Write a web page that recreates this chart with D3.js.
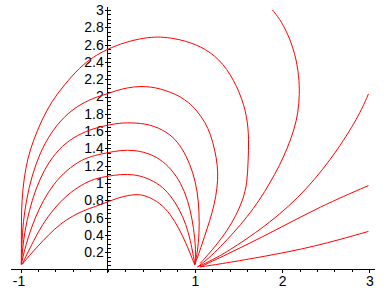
<!DOCTYPE html>
<html><head><meta charset="utf-8">
<script src="https://cdn.jsdelivr.net/npm/d3@7"></script>
<style>
html,body{margin:0;padding:0;background:#fff;}
svg{display:block;}
text{font-family:"Liberation Sans",Arial,sans-serif;font-size:14px;fill:#000;}
</style></head>
<body>
<svg id="c" width="388" height="288"></svg>
<script>
// Field lines (x, y)
const arc1 = [[-0.98,0.06],[-0.9,0.16],[-0.8,0.27],[-0.68,0.4],[-0.54,0.53],[-0.4,0.62],[-0.28,0.68],[-0.14,0.73],[0,0.78],[0.12,0.83],[0.25,0.86],[0.35,0.87],[0.45,0.85],[0.6,0.77],[0.72,0.64],[0.82,0.47],[0.9,0.3],[0.96,0.15],[1.0,0.05]];
const arc2 = [[-0.98,0.06],[-0.93,0.17],[-0.85,0.33],[-0.75,0.52],[-0.62,0.7],[-0.47,0.86],[-0.3,0.98],[-0.15,1.05],[0,1.08],[0.15,1.1],[0.3,1.1],[0.45,1.06],[0.6,0.98],[0.72,0.86],[0.82,0.7],[0.9,0.52],[0.95,0.33],[0.98,0.17],[1.0,0.06]];
const arc3 = [[-0.99,0.06],[-0.96,0.2],[-0.91,0.38],[-0.84,0.58],[-0.74,0.8],[-0.62,0.99],[-0.47,1.15],[-0.3,1.27],[-0.15,1.32],[0,1.35],[0.15,1.38],[0.3,1.38],[0.45,1.35],[0.6,1.28],[0.73,1.16],[0.84,1.0],[0.92,0.8],[0.97,0.58],[1.0,0.36],[1.01,0.18],[1.0,0.06]];
const arc4 = [[-0.99,0.06],[-0.975,0.25],[-0.95,0.45],[-0.9,0.68],[-0.83,0.92],[-0.73,1.15],[-0.6,1.35],[-0.44,1.5],[-0.25,1.6],[-0.09,1.65],[0.1,1.69],[0.26,1.70],[0.49,1.68],[0.68,1.59],[0.8,1.48],[0.9,1.32],[0.98,1.12],[1.03,0.9],[1.05,0.66],[1.05,0.42],[1.03,0.2],[1.0,0.06]];
const arc5 = [[-0.99,0.06],[-0.985,0.3],[-0.97,0.55],[-0.93,0.82],[-0.87,1.08],[-0.78,1.34],[-0.66,1.57],[-0.5,1.77],[-0.32,1.91],[-0.12,2.0],[0,2.03],[0.1,2.07],[0.22,2.1],[0.37,2.12],[0.5,2.11],[0.6,2.09],[0.72,2.05],[0.83,2.0],[0.93,1.93],[1.02,1.84],[1.12,1.7],[1.18,1.56],[1.23,1.38],[1.26,1.2],[1.265,1.03],[1.24,0.84],[1.2,0.66],[1.14,0.47],[1.08,0.29],[1.03,0.14],[1.0,0.06]];
const arc6 = [[-0.99,0.06],[-0.99,0.3],[-0.99,0.55],[-0.985,0.8],[-0.96,1.05],[-0.92,1.28],[-0.85,1.5],[-0.76,1.72],[-0.64,1.95],[-0.5,2.13],[-0.32,2.34],[-0.16,2.46],[-0.02,2.54],[0.2,2.63],[0.43,2.68],[0.57,2.69],[0.72,2.68],[0.95,2.63],[1.18,2.52],[1.37,2.33],[1.52,2.04],[1.6,1.77],[1.62,1.5],[1.61,1.25],[1.6,1.0],[1.55,0.8],[1.47,0.62],[1.37,0.45],[1.26,0.3],[1.15,0.17],[1.06,0.07]];
const out1 = [[1.03,0.03],[1.16,0.13],[1.29,0.26],[1.45,0.43],[1.6,0.61],[1.74,0.8],[1.86,1.0],[1.97,1.2],[2.06,1.40],[2.14,1.62],[2.185,1.82],[2.2,2.02],[2.195,2.23],[2.15,2.5],[2.055,2.75],[1.97,2.9],[1.89,3.0]];
const out2 = [[1.03,0.03],[1.2,0.11],[1.405,0.225],[1.864,0.538],[2.284,0.919],[2.647,1.39],[2.896,1.806],[2.99,2.03]];
const out3 = [[1.06,0.03],[1.40,0.19],[1.90,0.44],[2.44,0.73],[2.99,0.97]];
const out4 = [[1.06,0.03],[1.33,0.07],[1.79,0.15],[2.36,0.26],[2.99,0.44]];
const curves = [arc1, arc2, arc3, arc4, arc5, arc6, out1, out2, out3, out4];

const xTicks = d3.range(-5, 16).map(i => +(i * 0.2).toFixed(1));
const xLabels = [-1, 1, 2, 3];
const yTicks = d3.range(1, 61).map(i => +(i * 0.05).toFixed(2));
const yLabels = d3.range(1, 16).map(i => +(i * 0.2).toFixed(1));

const svg = d3.select("#c");
const x = d3.scaleLinear().domain([-1, 3]).range([20.5, 369.3]);
const y = d3.scaleLinear().domain([0, 3]).range([269.5, 10]);

// x axis
const gx = svg.append("g").attr("transform", `translate(0,${y(0)})`);
gx.append("line").attr("x1", x(-1.11)).attr("x2", x(3.07)).attr("stroke", "#000").attr("shape-rendering", "crispEdges");
gx.call(g => g.append("g").call(d3.axisBottom(x).tickValues(xTicks).tickSize(2).tickFormat(""))
  .call(a => a.select(".domain").remove()));
gx.call(g => g.append("g").call(d3.axisBottom(x).tickValues(xLabels).tickSize(3).tickPadding(4).tickFormat(d => String(d)))
  .call(a => a.select(".domain").remove())
  .call(a => a.selectAll(".tick text").attr("dx", d => d < 0 ? -2 : 0)));

// y axis
const gy = svg.append("g").attr("transform", `translate(${x(0)},0)`);
gy.append("line").attr("y1", y(-0.04)).attr("y2", y(3.04)).attr("stroke", "#000").attr("shape-rendering", "crispEdges");
gy.call(g => g.append("g").call(d3.axisRight(y).tickValues(yTicks).tickSize(3).tickFormat(""))
  .call(a => a.select(".domain").remove()));
gy.call(g => g.append("g").call(d3.axisLeft(y).tickValues(yLabels).tickSize(3).tickPadding(1).tickFormat(d => String(d)))
  .call(a => a.select(".domain").remove()));

svg.selectAll(".tick line").attr("shape-rendering", "crispEdges");
svg.selectAll(".tick text").attr("font-family", "'Liberation Sans', Arial, sans-serif").attr("font-size", 14);

const line = d3.line().x(d => x(d[0])).y(d => y(d[1])).curve(d3.curveBasis);
svg.append("g").selectAll("path").data(curves).join("path")
  .attr("d", line).attr("fill", "none").attr("stroke", "#ff0000").attr("stroke-width", 1);
</script>
</body></html>
